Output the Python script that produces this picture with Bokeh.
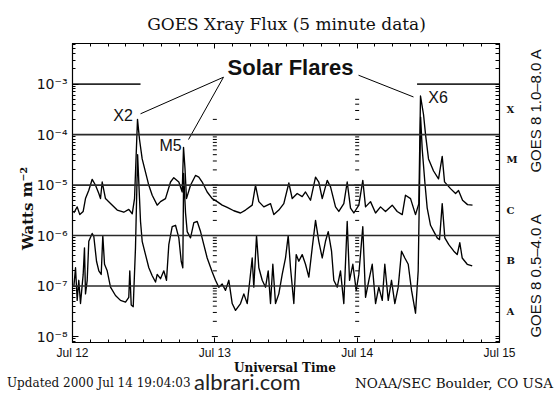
from bokeh.plotting import figure
from bokeh.layouts import column
from bokeh.models import Range1d, FixedTicker, LinearAxis, LogAxis, Span, Label, Div
from bokeh.embed import file_html
from bokeh.resources import INLINE

# ---------------- data (hours since Jul 12 00:00 UT, flux in W m^-2) ----------------
upper_hours = [
    0.22, 0.79, 1.23, 1.80, 2.19, 2.75, 3.32, 3.88, 4.44, 4.72,
    5.01, 5.56, 6.41, 7.54, 8.65, 9.49, 10.07, 10.46, 10.96, 11.30,
    11.75, 12.31, 12.87, 13.44, 14.28, 14.84, 15.68, 16.53, 17.08, 17.93,
    18.50, 18.72, 18.97, 19.22, 19.90, 20.74, 21.30, 21.87, 22.71, 23.56,
    24.40, 25.24, 26.09, 27.20, 28.33, 29.17, 30.30, 30.86, 31.42, 32.26,
    33.39, 33.95, 34.79, 35.63, 36.48, 37.05, 37.89, 38.73, 39.29, 40.13,
    40.98, 41.53, 42.11, 42.95, 43.51, 44.35, 44.91, 45.75, 46.32, 46.88,
    47.44, 48.28, 48.95, 49.41, 50.25, 51.10, 51.94, 52.78, 53.91, 54.75,
    55.60, 56.15, 57.00, 57.84, 58.40, 58.68, 59.19, 59.53, 60.03, 60.88,
    61.72, 62.34, 62.73, 63.74, 64.59, 65.09, 65.77, 66.61, 67.45,
]
upper_flux = [
    2.8e-6, 3.7e-6, 2.6e-6, 3.0e-6, 5.4e-6, 7.9e-6, 1.3e-5, 9.9e-6, 6.8e-6, 5.4e-6,
    1.15e-5, 5.4e-6, 4.3e-6, 3.2e-6, 2.9e-6, 3.3e-6, 2.7e-6, 5.4e-6, 2.0e-4, 8.0e-5,
    3.3e-5, 1.8e-5, 9.9e-6, 6.3e-6, 4.0e-6, 4.7e-6, 5.4e-6, 1.15e-5, 1.4e-5, 1.15e-5,
    7.3e-6, 5.6e-5, 2.1e-5, 5.4e-6, 9.9e-6, 1.55e-5, 1.44e-5, 1.15e-5, 7.3e-6, 5.4e-6,
    4.7e-6, 4.0e-6, 3.6e-6, 3.1e-6, 2.8e-6, 3.2e-6, 4.0e-6, 9.9e-6, 4.7e-6, 3.7e-6,
    4.3e-6, 2.6e-6, 3.2e-6, 4.3e-6, 1.1e-5, 5.4e-6, 6.8e-6, 5.9e-6, 7.3e-6, 5.0e-6,
    1.44e-5, 1.15e-5, 5.4e-6, 1.24e-5, 9.2e-6, 3.7e-6, 3.0e-6, 4.3e-6, 1.15e-5, 3.5e-6,
    2.8e-6, 4.0e-6, 1.24e-5, 3.7e-6, 4.7e-6, 2.8e-6, 3.7e-6, 3.0e-6, 4.0e-6, 3.0e-6,
    2.6e-6, 6.3e-6, 5.4e-6, 2.6e-6, 4.3e-6, 5.8e-4, 2.5e-4, 1.0e-4, 3.3e-5, 1.9e-5,
    1.33e-5, 3.7e-5, 1.16e-5, 8.5e-6, 6.8e-6, 7.8e-6, 5.0e-6, 4.1e-6, 4.0e-6,
]
lower_hours = [
    0.22, 0.51, 0.79, 1.06, 1.35, 1.80, 2.02, 2.19, 2.48, 2.75,
    3.32, 3.59, 4.05, 4.44, 4.84, 5.11, 5.40, 5.85, 6.41, 7.25,
    8.09, 8.94, 9.49, 9.66, 9.90, 10.24, 10.62, 10.98, 11.30, 11.47,
    11.75, 12.31, 12.87, 13.44, 14.00, 14.28, 14.84, 15.40, 15.85, 16.24,
    16.81, 17.37, 17.93, 18.33, 18.60, 18.74, 19.06, 19.34, 19.90, 20.46,
    21.03, 21.59, 22.14, 22.71, 23.56, 24.11, 24.67, 25.24, 25.80, 26.36,
    26.93, 27.49, 28.33, 28.89, 29.46, 29.90, 30.30, 30.57, 31.03, 31.42,
    31.99, 32.55, 33.00, 33.39, 33.78, 34.23, 34.79, 35.36, 35.92, 36.37,
    36.76, 37.32, 37.72, 38.16, 38.73, 39.29, 39.85, 40.42, 40.98, 41.53,
    42.11, 42.66, 43.12, 43.68, 44.06, 44.64, 45.19, 45.75, 46.32, 46.71,
    47.27, 47.84, 48.28, 48.95, 49.41, 49.97, 50.54, 51.10, 51.65, 52.23,
    52.66, 53.24, 53.79, 54.35, 54.92, 55.48, 56.04, 56.61, 57.17, 57.84,
    58.29, 58.70, 58.97, 59.41, 59.81, 60.37, 60.93, 61.50, 61.89, 62.34,
    62.78, 63.45, 64.30, 64.87, 65.31, 65.71, 66.56, 67.40,
]
lower_flux = [
    9.5e-8, 2.3e-7, 5.2e-8, 1.3e-7, 4.5e-8, 1.7e-7, 5.7e-7, 7.0e-8, 1.3e-7, 7.7e-7,
    1.1e-6, 9.7e-7, 3.1e-7, 2.0e-7, 1.7e-7, 1.0e-6, 2.7e-7, 2.0e-7, 9.5e-8, 6.5e-8,
    5.2e-8, 4.8e-8, 6.0e-8, 2.0e-7, 4.2e-8, 3.9e-8, 5.7e-7, 4.0e-5, 5.4e-6, 1.9e-6,
    7.7e-7, 4.2e-7, 2.3e-7, 1.6e-7, 1.2e-7, 1.7e-7, 1.4e-7, 2.0e-7, 1.3e-7, 6.6e-7,
    1.5e-6, 1.6e-6, 9.0e-7, 3.1e-7, 2.3e-7, 1.7e-5, 2.8e-6, 1.2e-6, 9.0e-7, 1.8e-6,
    1.9e-6, 1.2e-6, 6.6e-7, 3.6e-7, 1.9e-7, 1.3e-7, 9.5e-8, 1.1e-7, 8.2e-8, 1.3e-7,
    4.5e-8, 3.3e-8, 4.5e-8, 7.0e-8, 4.5e-8, 1.3e-7, 3.6e-7, 9.5e-8, 1.0e-6, 2.3e-7,
    1.3e-7, 9.5e-8, 2.0e-7, 4.5e-8, 2.7e-7, 4.5e-8, 7.0e-8, 1.7e-7, 3.6e-7, 1.0e-6,
    2.3e-7, 4.5e-8, 4.2e-7, 3.1e-7, 4.2e-7, 2.7e-7, 1.5e-7, 5.7e-7, 2.0e-6, 7.7e-7,
    3.6e-7, 7.7e-7, 1.2e-6, 4.9e-7, 1.3e-7, 9.5e-8, 2.0e-7, 4.5e-8, 1.9e-6, 1.3e-7,
    2.7e-7, 8.2e-8, 1.7e-7, 1.5e-6, 6.0e-8, 1.3e-7, 2.7e-7, 4.5e-8, 9.5e-8, 5.2e-8,
    2.7e-7, 5.2e-8, 1.3e-7, 4.5e-8, 9.5e-8, 4.9e-7, 3.6e-7, 2.7e-7, 8.2e-8, 2.9e-8,
    2.0e-7, 2.2e-4, 5.1e-5, 1.15e-5, 3.5e-6, 1.6e-6, 1.2e-6, 9.0e-7, 8.3e-7, 4.3e-6,
    9.0e-7, 6.6e-7, 4.9e-7, 4.2e-7, 7.2e-7, 3.6e-7, 2.7e-7, 2.5e-7,
]
assert len(upper_hours) == len(upper_flux)
assert len(lower_hours) == len(lower_flux)

day_ticks = [0, 24, 48, 72]
day_labels = ["Jul 12", "Jul 13", "Jul 14", "Jul 15"]
hour_minor_ticks = list(range(0, 73, 3))
decades = [1e-8, 1e-7, 1e-6, 1e-5, 1e-4, 1e-3]
decade_labels = ["10⁻⁸", "10⁻⁷", "10⁻⁶", "10⁻⁵", "10⁻⁴", "10⁻³"]
class_levels = [3.16e-8, 3.16e-7, 3.16e-6, 3.16e-5, 3.16e-4]
class_labels = ["A", "B", "C", "M", "X"]
full_levels = [1e-7, 1e-6, 1e-5, 1e-4]
partial_level = 1e-3
partial_x0 = [0, 58.1]
partial_x1 = [11.47, 72]
ladder_hours = [24, 48]
ladder_tops = [2e-4, 5e-4]
flare_names = ["X2", "M5", "X6"]
flare_label_x = [8.52, 16.53, 61.64]
flare_label_y = [2.36e-4, 5.96e-5, 5.43e-4]
leader_x0 = [11.47, 19.56, 48.23]
leader_y0 = [2.58e-4, 7.98e-5, 1.50e-3]
leader_x1 = [25.46, 25.46, 57.50]
leader_y1 = [1.37e-3, 1.37e-3, 5.56e-4]

log_minor = [m * 10.0 ** e for e in range(-9, -2) for m in range(2, 10)]
log_all = [m * 10.0 ** e for e in range(-9, -2) for m in range(1, 10)]

INK = "#111111"
MAIN_H = 362
FOOT_H = 31

p = figure(width=554, height=MAIN_H,
           x_range=Range1d(0, 72), y_range=Range1d(7.62e-9, 6.37e-3),
           y_axis_type="log", output_backend="svg", toolbar_location=None,
           min_border_left=72, min_border_right=55, min_border_top=43, min_border_bottom=17)
p.grid.visible = False
p.outline_line_color = "black"
p.outline_line_width = 1.2
p.background_fill_color = "white"
p.border_fill_color = "white"

# bottom axis
xa = p.xaxis[0]
xa.ticker = FixedTicker(ticks=day_ticks, minor_ticks=hour_minor_ticks)
xa.major_label_overrides = dict(zip(day_ticks, day_labels))
xa.major_tick_in = 5
xa.major_tick_out = 0
xa.minor_tick_in = 3
xa.minor_tick_out = 0
xa.major_label_standoff = 3
xa.major_label_text_font = "Liberation Sans"
xa.major_label_text_font_size = "12px"
xa.major_label_text_color = INK
xa.axis_line_color = "black"

# top axis (ticks only)
ta = LinearAxis(ticker=FixedTicker(ticks=day_ticks, minor_ticks=hour_minor_ticks),
                major_label_text_font_size="1px", major_label_text_alpha=0.0,
                major_label_standoff=0, major_tick_in=5, major_tick_out=0,
                minor_tick_in=3, minor_tick_out=0, axis_line_color="black")
p.add_layout(ta, "above")

# left axis
ya = p.yaxis[0]
ya.ticker = FixedTicker(ticks=decades, minor_ticks=log_minor)
ya.major_label_overrides = dict(zip(decades, decade_labels))
ya.major_tick_in = 6
ya.major_tick_out = 0
ya.minor_tick_in = 3
ya.minor_tick_out = 0
ya.major_label_standoff = 5
ya.major_label_text_font = "DejaVu Sans"
ya.major_label_text_font_size = "14px"
ya.major_label_text_color = INK
ya.axis_line_color = "black"

# right axis with flare classes
ra = LogAxis(ticker=FixedTicker(ticks=class_levels, minor_ticks=log_all),
             major_label_overrides=dict(zip(class_levels, class_labels)),
             major_tick_in=0, major_tick_out=0, minor_tick_in=4, minor_tick_out=0,
             major_label_standoff=7, major_label_text_font="DejaVu Serif",
             major_label_text_font_style="bold", major_label_text_font_size="10px",
             major_label_text_color=INK, axis_line_color="black")
p.add_layout(ra, "right")

# threshold lines
for lvl in full_levels:
    p.add_layout(Span(location=lvl, dimension="width", line_color="#2a2a2a", line_width=1.6))
p.segment(x0=partial_x0, y0=[partial_level] * 2, x1=partial_x1, y1=[partial_level] * 2,
          line_color="#2a2a2a", line_width=1.6)

# day-boundary ladder marks
lx, ly, ls = [], [], []
for h, top in zip(ladder_hours, ladder_tops):
    for e in range(-8, -3):
        for m in range(1, 10):
            v = m * 10.0 ** e
            if v <= top:
                lx.append(h)
                ly.append(v)
                ls.append(6 if m == 1 else 4)
p.scatter(lx, ly, marker="dash", size=ls, line_color="black", line_width=1)

# data
p.line(upper_hours, upper_flux, line_color="black", line_width=1.35, line_join="round")
p.line(lower_hours, lower_flux, line_color="black", line_width=1.35, line_join="round")

# leader lines
p.segment(x0=leader_x0, y0=leader_y0, x1=leader_x1, y1=leader_y1,
          line_color="black", line_width=1)


def lab(x, y, text, font, size, align="center", baseline="middle", angle=0.0,
        style="normal", color=INK, units="data", place="center"):
    p.add_layout(Label(x=x, y=y, x_units=units, y_units=units, text=text,
                       text_font=font, text_font_size=size, text_align=align,
                       text_baseline=baseline, angle=angle, angle_units="rad",
                       text_font_style=style, text_color=color), place)


lab(36.76, 2.11e-3, "Solar Flares", "Liberation Sans", "22px", style="bold")
for name, fx, fy in zip(flare_names, flare_label_x, flare_label_y):
    lab(fx, fy, name, "Liberation Sans", "16px")

# texts around the frame (canvas pixels; the panel only reserves room)
lab(286, 23, "GOES Xray Flux (5 minute data)", "DejaVu Serif", "17px",
    units="canvas", place="above")
lab(27, 208, "Watts m⁻²", "DejaVu Serif", "15px", angle=1.5708, style="bold",
    units="canvas", place="left")
lab(535, 110, "GOES 8 1.0–8.0 A", "Liberation Sans", "15px", angle=1.5708,
    units="canvas", place="right")
lab(535, 275, "GOES 8 0.5–4.0 A", "Liberation Sans", "15px", angle=1.5708,
    units="canvas", place="right")

# footer strip (x-axis title and credits)
footer_html = (
    '<div style="position:relative;width:554px;height:31px;color:#111;white-space:nowrap;">'
    '<span style="position:absolute;left:285px;top:0px;transform:translateX(-50%);'
    'font-family:\'DejaVu Serif\';font-weight:bold;font-size:12px;line-height:12px;">'
    'Universal Time</span>'
    '<span style="position:absolute;left:7px;top:14px;font-family:\'DejaVu Serif\';'
    'font-size:12px;line-height:14px;">Updated 2000 Jul 14 19:04:03</span>'
    '<span style="position:absolute;left:194px;top:8px;font-family:Lato;font-size:22px;'
    'line-height:23px;color:#222;">albrari.com</span>'
    '<span style="position:absolute;right:1px;top:13px;font-family:\'DejaVu Serif\';'
    'font-size:13.5px;line-height:16px;">NOAA/SEC Boulder, CO USA</span>'
    '</div>'
)
foot = Div(text=footer_html, width=554, height=FOOT_H, margin=0)

page = column(p, foot, spacing=0)
open("out.html", "w", encoding="utf-8").write(file_html(page, INLINE))
